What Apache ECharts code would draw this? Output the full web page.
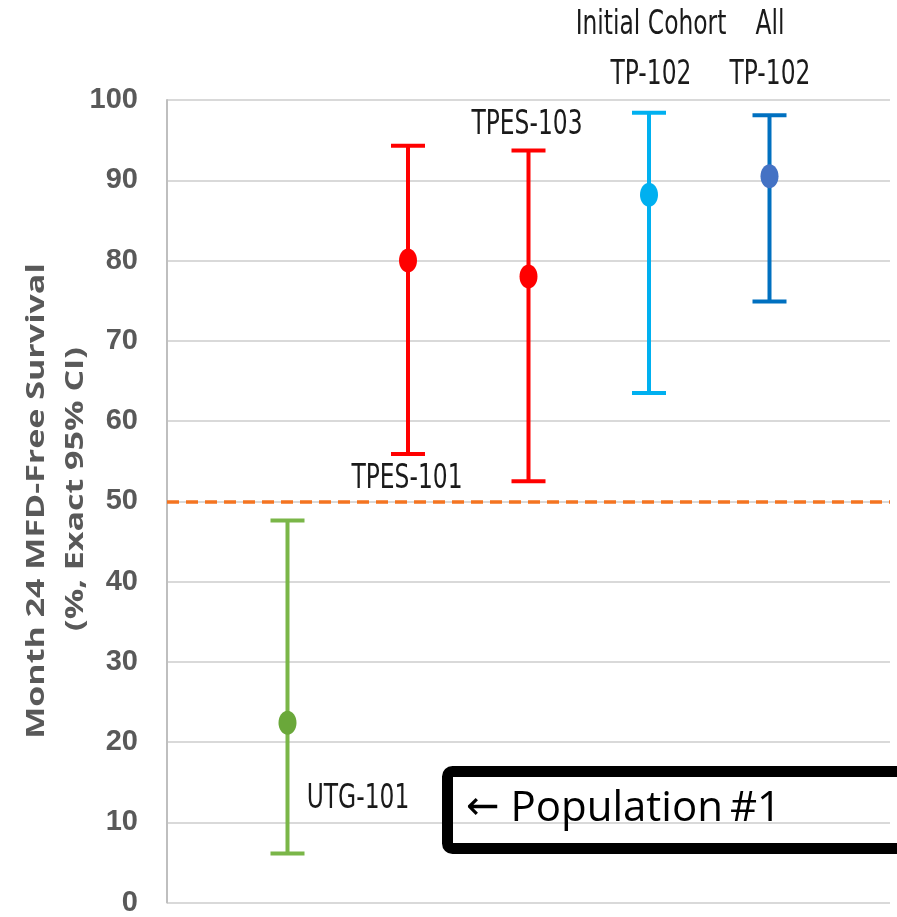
<!DOCTYPE html>
<html>
<head>
<meta charset="utf-8">
<script src="https://cdn.jsdelivr.net/npm/echarts@6/dist/echarts.min.js"></script>
<style>
html,body{margin:0;padding:0;background:#fff;}
#c{width:897px;height:917px;}
</style>
</head>
<body>
<div id="c"></div>
<script>
// ---- data ----
var studies = ['UTG-101', 'TPES-101', 'TPES-103', 'Initial Cohort TP-102', 'All TP-102'];
var positions = [1, 2, 3, 4, 5];
var pointEstimate = [22.4, 80.0, 78.0, 88.2, 90.5];
var ciLower = [6.1, 55.9, 52.5, 63.5, 74.9];
var ciUpper = [47.6, 94.3, 93.7, 98.4, 98.1];
var threshold = 50;
var yTicks = [0, 10, 20, 30, 40, 50, 60, 70, 80, 90, 100];

var barColors = ['#7ab648', '#ff0000', '#ff0000', '#00b0f0', '#0070c0'];
var dotColors = ['#6aa83a', '#ff0000', '#ff0000', '#00b0f0', '#4472c4'];

var chart = echarts.init(document.getElementById('c'), null, {renderer: 'canvas'});

var data = positions.map(function (p, i) {
  return [p, ciLower[i], ciUpper[i], pointEstimate[i]];
});

var labelFont = '26px "Liberation Sans Narrow", "DejaVu Sans Condensed", sans-serif';
function lab(text, x, y) {
  return {
    type: 'text', x: x, y: y, scaleY: 1.3,
    style: {text: text, font: labelFont, fill: '#1a1a1a', textAlign: 'center', textVerticalAlign: 'middle'}
  };
}

chart.setOption({
  animation: false,
  grid: {left: 167, right: 7, top: 100, bottom: 12, containLabel: false},
  xAxis: {
    type: 'value', min: 0, max: 6, interval: 1,
    axisLine: {show: false}, axisTick: {show: false}, axisLabel: {show: false}, splitLine: {show: false}
  },
  yAxis: {
    type: 'value', min: yTicks[0], max: yTicks[yTicks.length - 1], interval: 10,
    axisLine: {show: true, lineStyle: {color: '#bfbfbf', width: 2}},
    axisTick: {show: false},
    axisLabel: {
      margin: 29, color: '#595959', fontSize: 29, fontWeight: 'bold',
      fontFamily: '"Liberation Sans Narrow", sans-serif'
    },
    splitLine: {show: true, lineStyle: {color: '#d9d9d9', width: 2}}
  },
  series: [{
    type: 'custom',
    data: data,
    encode: {x: 0, y: [1, 2, 3]},
    renderItem: function (params, api) {
      var x = api.value(0);
      var pLo = api.coord([x, api.value(1)]);
      var pHi = api.coord([x, api.value(2)]);
      var pMid = api.coord([x, api.value(3)]);
      var c = barColors[params.dataIndex];
      var dc = dotColors[params.dataIndex];
      var hw = 17;
      var st = {stroke: c, lineWidth: 4};
      return {
        type: 'group',
        children: [
          {type: 'line', shape: {x1: pLo[0], y1: pLo[1], x2: pHi[0], y2: pHi[1]}, style: st},
          {type: 'line', shape: {x1: pLo[0] - hw, y1: pLo[1], x2: pLo[0] + hw, y2: pLo[1]}, style: st},
          {type: 'line', shape: {x1: pHi[0] - hw, y1: pHi[1], x2: pHi[0] + hw, y2: pHi[1]}, style: st},
          {type: 'ellipse', shape: {cx: pMid[0], cy: pMid[1], rx: 9, ry: 12}, style: {fill: dc}}
        ]
      };
    },
    markLine: {
      silent: true, symbol: 'none', label: {show: false},
      lineStyle: {color: '#f47421', type: [12, 7], width: 3.5},
      data: [{yAxis: threshold}]
    },
    z: 3
  }],
  graphic: [
    {
      type: 'text', x: 37, y: 501, rotation: Math.PI / 2, scaleX: 1.36,
      style: {text: 'Month 24 MFD-Free Survival', font: 'bold 25px "Open Sans", sans-serif', fill: '#595959',
        textAlign: 'center', textVerticalAlign: 'middle'}
    },
    {
      type: 'text', x: 76, y: 489, rotation: Math.PI / 2, scaleX: 1.36,
      style: {text: '(%, Exact 95% CI)', font: 'bold 25px "Open Sans", sans-serif', fill: '#595959',
        textAlign: 'center', textVerticalAlign: 'middle'}
    },
    lab('Initial Cohort', 651, 25),
    lab('All', 770, 25),
    lab('TP-102', 651, 75),
    lab('TP-102', 770, 75),
    lab('TPES-103', 527, 125),
    lab('TPES-101', 407, 479),
    lab('UTG-101', 358, 799),
    {
      type: 'rect', shape: {x: 447.5, y: 771.5, width: 480, height: 77, r: 5},
      style: {fill: 'none', stroke: '#000', lineWidth: 11}, z: 10
    },
    {
      type: 'text', x: 466, y: 809, z: 10,
      style: {
        text: '{a|\u2190}{b| Population\u2009#1}',
        fill: '#000', textAlign: 'left', textVerticalAlign: 'middle',
        rich: {
          a: {font: '40px "DejaVu Sans", sans-serif', fill: '#000'},
          b: {font: '42px "Open Sans", sans-serif', fill: '#000'}
        }
      }
    }
  ]
});
</script>
</body>
</html>
